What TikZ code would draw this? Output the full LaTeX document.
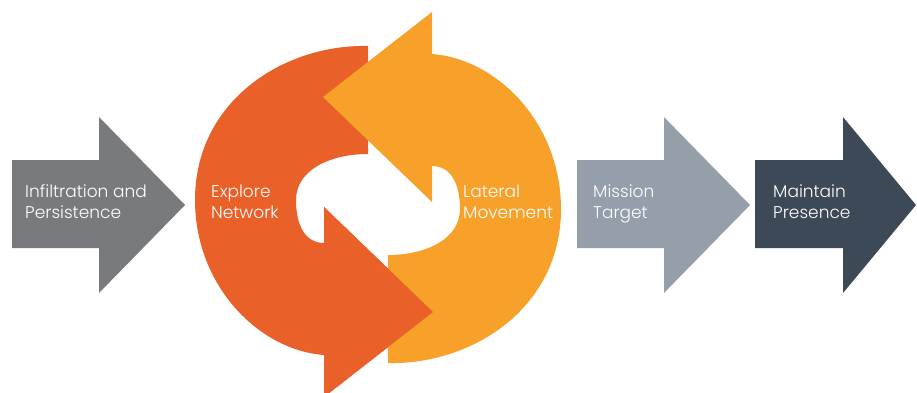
\documentclass[tikz,border=0pt]{standalone}
\usepackage{fontspec}
\setmainfont{Poppins Light}
\definecolor{infilgray}{RGB}{121,122,126}
\definecolor{missiongray}{RGB}{148,159,170}
\definecolor{maintainslate}{RGB}{62,73,87}
\definecolor{redorange}{RGB}{233,96,40}
\definecolor{amber}{RGB}{247,160,42}
\begin{document}
\begin{tikzpicture}[x=1pt,y=-1pt,
  stagetext/.style={anchor=base west,align=left,inner sep=0pt,text=white,
    font=\fontsize{17}{21}\selectfont}]
\useasboundingbox (0,0) rectangle (917,392);

% straight stage arrows
\fill[infilgray]
  (12,160) -- (99,160) -- (99,117) -- (185,205) -- (99,293) -- (99,248) -- (12,248) -- cycle;
\fill[missiongray]
  (577,160) -- (664,160) -- (664,117) -- (750,205) -- (664,293) -- (664,248) -- (577,248) -- cycle;
\fill[maintainslate]
  (755,160) -- (843,160) -- (843,117) -- (916,205) -- (843,293) -- (843,248) -- (755,248) -- cycle;

% cycle: left curved arrow, then its 180-degree copy on the right
\def\curvedarrow{(368,46) .. controls (285,44) and (195,100) .. (195,200)
  .. controls (195,285) and (258,350) .. (324,355) -- (324,397) -- (433,312)
  -- (324,207) -- (324,243) .. controls (305,243) and (296,225) .. (296,200)
  .. controls (296,170) and (330,154) .. (368,154) -- cycle}
\fill[redorange] \curvedarrow;
\fill[amber, rotate around={180:(378,204.5)}] \curvedarrow;
% head of the left arrow lies over the tail of the right one
\fill[redorange] (324,207) -- (433,312) -- (324,397) -- cycle;

% labels (anchored on the baseline of the second line)
\node[stagetext] (infil) at (25,218) {Infiltration and\\Persistence};
\node[stagetext] (explore) at (211,218) {Explore\\Network};
\node[stagetext] (lateral) at (463,218) {Lateral\\Movement};
\node[stagetext] (mission) at (593,218) {Mission\\Target};
\node[stagetext] (maintain) at (773,218) {Maintain\\Presence};
\end{tikzpicture}
\end{document}
